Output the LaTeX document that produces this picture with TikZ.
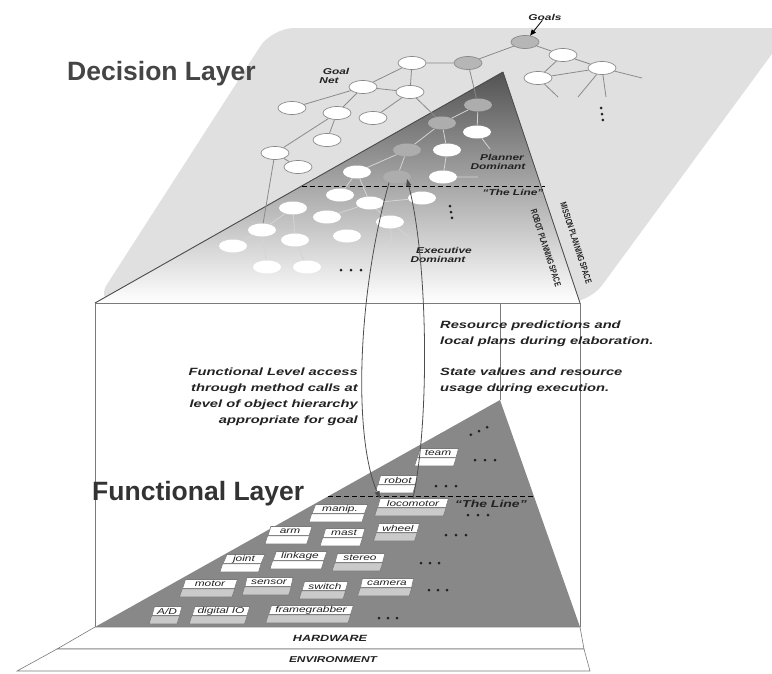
\documentclass[tikz,border=0pt]{standalone}
\usepackage{fontspec}
\setmainfont{Liberation Sans}
\newfontfamily\widefont[FakeStretch=1.4]{Liberation Sans}
\newfontfamily\narrowfont[FakeStretch=0.7]{Liberation Sans}
\usetikzlibrary{shapes.geometric,arrows.meta,calc}

\definecolor{planegray}{HTML}{E0E0E0}
\definecolor{funcgray}{HTML}{888888}
\definecolor{edgegray}{HTML}{8A8A8A}
\definecolor{darkedge}{HTML}{D4D4D4}
\definecolor{nodegray}{HTML}{B6B6B6}
\definecolor{innergraynode}{HTML}{ADADAD}
\definecolor{bandgray}{HTML}{CACACA}
\definecolor{inkgray}{HTML}{222222}
\definecolor{framegray}{HTML}{7A7A7A}
\definecolor{tritop}{HTML}{535353}
\definecolor{trimid}{HTML}{8E8E8E}
\definecolor{flowgray}{HTML}{4D4D4D}
\definecolor{edgedark}{HTML}{4A4A4A}
\definecolor{dectitle}{HTML}{454545}
\definecolor{funtitle}{HTML}{333333}

\pgfdeclarelayer{back}
\pgfdeclarelayer{links}
\pgfsetlayers{back,links,main}

\tikzset{
  goal/.style={ellipse, draw=edgegray, line width=0.7pt, fill=white,
    minimum width=28pt, minimum height=13pt, inner sep=0pt},
  goalgray/.style={goal, fill=nodegray},
  inner/.style={ellipse, fill=white, minimum width=28pt, minimum height=13pt, inner sep=0pt},
  innergray/.style={inner, fill=innergraynode},
  link/.style={edgegray, line width=0.8pt},
  darklink/.style={darkedge, line width=0.8pt},
  tag/.style={font=\widefont\bfseries\itshape\fontsize{8.5}{9}\selectfont,
    text=inkgray, inner sep=0pt},
  sidetag/.style={font=\narrowfont\bfseries\fontsize{9}{10}\selectfont,
    text=inkgray, inner sep=0pt},
  note/.style={font=\widefont\bfseries\itshape\fontsize{10.5}{16}\selectfont,
    text=inkgray, inner sep=0pt},
  title/.style={font=\bfseries\fontsize{26.5}{30}\selectfont, inner sep=0pt},
  fbox/.style={trapezium, trapezium left angle=72, trapezium right angle=108,
    trapezium stretches=true, draw=framegray, line width=0.6pt, fill=white,
    minimum height=9pt, inner sep=0pt,
    font=\widefont\itshape\fontsize{8.5}{8.5}\selectfont, text=inkgray},
  slab/.style={draw=framegray, line width=0.6pt, fill=white},
  slabtag/.style={font=\widefont\bfseries\itshape\fontsize{9}{10}\selectfont,
    text=inkgray, inner sep=0pt},
  flow/.style={flowgray, line width=0.8pt},
  tip/.style={-{Triangle[length=7pt,width=5pt]}},
  theline/.style={black, line width=0.9pt, dash pattern=on 5pt off 3pt},
}

% a labelled box of the functional hierarchy with its shaded lower band
\newcommand\funcbox[6]{%
  \node[fbox, minimum width=#4pt] (#1) at (#2,#3) {#5};
  \draw[framegray, line width=0.6pt, fill=#6] (#1.bottom left corner) --
    (#1.bottom right corner) -- ++(-2.6,8) --
    ($(#1.bottom left corner)+(-2.6,8)$) -- cycle;}

% a row of three dots: x, y, direction, spacing
\newcommand\dotrow[4]{%
  \foreach \k in {-1,0,1}{%
    \fill[inkgray] ({#1+\k*#4*cos(#3)},{#2+\k*#4*sin(#3)}) circle (1.5);}}

\begin{document}
\begin{tikzpicture}[x=1pt,y=-1pt]
\useasboundingbox (0,0) rectangle (772,673);

\begin{pgfonlayer}{back}
  \clip (0,0) rectangle (772,673);
  % decision plane
  \fill[planegray, rounded corners=22pt] (272,28) -- (791,28) -- (589,303) -- (95,303) -- cycle;
  % planning triangle
  \shade[top color=tritop, middle color=trimid, bottom color=white]
    (95,303) -- (503,72) -- (580,303) -- cycle;
  \draw[edgedark, line width=0.9pt] (95,303) -- (503,72);
  \draw[flowgray, line width=0.8pt] (503,72) -- (580,303);
  % frame between the layers
  \draw[framegray, line width=0.8pt] (95,303) -- (580,303);
  \draw[framegray, line width=0.8pt] (95,303) -- (95,627);
  \draw[framegray, line width=0.8pt] (580,303) -- (580,627);
  \draw[framegray, line width=0.8pt] (500,303) -- (500,400);
  % functional triangle
  \fill[funcgray] (500,400) -- (95,627) -- (580,627) -- cycle;
  % hardware and environment slabs
  \draw[slab] (95,627) -- (580,627) -- (584,649) -- (57,649) -- cycle;
  \draw[slab] (57,649) -- (584,649) -- (590,671) -- (17,671) -- cycle;
  % "The Line" in both layers
  \draw[theline] (302,186) -- (545,186);
  \draw[theline] (328,496) -- (533,496);
\end{pgfonlayer}

% goal net on the mission plane
\node[goalgray] (g0) at (525,42) {};
\node[goal] (n1) at (563,55) {};
\node[goal] (n2) at (602,68) {};
\node[goal] (n3) at (538,78) {};
\node[goalgray] (g1) at (468,63) {};
\node[goal] (n4) at (412,63) {};
\node[goal] (n5) at (363,87) {};
\node[goal] (n6) at (410,92) {};
\node[goal] (n7) at (292,108) {};
\node[goal] (n8) at (337,113) {};
\node[goal] (n9) at (373,118) {};
\node[goal] (n10) at (327,140) {};
\node[goal] (n11) at (275,153) {};
\node[goal] (n12) at (298,167) {};
\coordinate (s1) at (642,78);
\coordinate (s2) at (578,97);
\coordinate (s3) at (606,97);
\coordinate (s4) at (558,97);

% goal net inside the robot planning triangle
\node[innergray] (g2) at (478,105) {};
\node[innergray] (g3) at (442,123) {};
\node[innergray] (g4) at (407,150) {};
\node[innergray] (g5) at (397,177) {};
\node[inner] (w1) at (477,132) {};
\node[inner] (w2) at (447,150) {};
\node[inner] (w3) at (443,177) {};
\node[inner] (w4) at (357,172) {};
\node[inner] (w5) at (340,195) {};
\node[inner] (w6) at (370,203) {};
\node[inner] (w7) at (422,198) {};
\node[inner] (w8) at (293,208) {};
\node[inner] (w9) at (327,217) {};
\node[inner] (w10) at (390,222) {};
\node[inner] (w11) at (347,236) {};
\node[inner] (w12) at (262,230) {};
\node[inner] (w13) at (295,240) {};
\node[inner] (w14) at (233,246) {};
\node[inner] (w15) at (267,267) {};
\node[inner] (w16) at (307,267) {};
\coordinate (s5) at (490,149);
\coordinate (s6) at (478,177);
\coordinate (s7) at (410,238);
\coordinate (s8) at (392,246);

\begin{pgfonlayer}{links}
  \draw[link] (g0) -- (n1) (n1) -- (n2) (n1) -- (n3) (n3) -- (n2)
    (g0) -- (g1) (g1) -- (n4) (n4) -- (n5) (n4) -- (n6) (n5) -- (n6)
    (n5) -- (n7) (n5) -- (n8) (n6) -- (n9) (n8) -- (n10) (n8) -- (n11)
    (n11) -- (n12) (n2) -- (s1) (n2) -- (s2) (n2) -- (s3) (n3) -- (s4)
    (g1) -- (g2) (n6) -- (g3) (n11) -- (w12);
  \draw[darklink] (g2) -- (g3) (g3) -- (g4) (g4) -- (g5) (g2) -- (w1)
    (g3) -- (w2) (w2) -- (w3) (w3) -- (s6) (w1) -- (s5)
    (g4) -- (w4) (w4) -- (w5) (w4) -- (w6) (w6) -- (w7) (w6) -- (w10)
    (w6) -- (w9) (w10) -- (s7) (w10) -- (s8)
    (w8) -- (w12) (w8) -- (w13) (w12) -- (w14) (w12) -- (w15) (w13) -- (w16);
\end{pgfonlayer}

% dots marking further nodes
\dotrow{602}{114}{82}{6}
\dotrow{451}{212}{80}{6}
\dotrow{351}{270}{0}{10}

% labels of the decision layer
\node[title, anchor=base west, text=dectitle] (declbl) at (67,80) {Decision Layer};
\node[tag] (goalslbl) at (545,17) {Goals};
\draw[black, line width=0.8pt, -{Triangle[length=6pt,width=5pt]}] (goalslbl) -- (g0);
\node[tag, align=center] (netlbl) at (336,76) {Goal\\Net\hspace*{14pt}};
\node[tag, align=center] (plannerlbl) at (498,162) {\hspace*{8pt}Planner\\Dominant};
\node[tag] (line1lbl) at (513,192) {“The Line”};
\node[tag, align=center] (execlbl) at (438,255) {\hspace*{12pt}Executive\\Dominant};
\node[sidetag, rotate=-72] (missionlbl) at (576,243) {MISSION PLANNING SPACE};
\node[sidetag, rotate=-72] (robotlbl) at (546,248) {ROBOT PLANNING SPACE};

% notes between the layers
\node[note, align=right, anchor=east] (accesslbl) at (358,397)
  {Functional Level access\\through method calls at\\level of object hierarchy\\appropriate for goal};
\node[note, align=left, anchor=west] (predlbl) at (440,334)
  {Resource predictions and\\local plans during elaboration.};
\node[note, align=left, anchor=west] (statelbl) at (440,381)
  {State values and resource\\usage during execution.};

% functional layer
\node[title, anchor=base west, text=funtitle] (funlbl) at (92,500) {Functional Layer};
\funcbox{team}{438}{453}{41}{team}{white}
\funcbox{robot}{398}{480}{40}{robot}{white}
\funcbox{manip}{340}{509}{56}{manip.}{white}
\funcbox{locomotor}{413}{503}{71}{locomotor}{bandgray}
\funcbox{arm}{290}{531}{44}{arm}{white}
\funcbox{mast}{344}{533}{42}{mast}{white}
\funcbox{wheel}{398}{528}{43}{wheel}{bandgray}
\funcbox{joint}{244}{559}{42}{joint}{white}
\funcbox{linkage}{300}{556}{54}{linkage}{white}
\funcbox{stereo}{360}{558}{50}{stereo}{bandgray}
\funcbox{motor}{210}{584}{55}{motor}{bandgray}
\funcbox{sensor}{269}{582}{48}{sensor}{bandgray}
\funcbox{switch}{325}{586}{46}{switch}{bandgray}
\funcbox{camera}{387}{583}{53}{camera}{bandgray}
\funcbox{ad}{167}{611}{30}{A/D}{bandgray}
\funcbox{dio}{221}{611}{58}{digital IO}{bandgray}
\funcbox{fgrab}{311}{610}{85}{framegrabber}{bandgray}
\node[tag, font=\widefont\bfseries\itshape\fontsize{10}{10}\selectfont] (line2lbl) at (491,504) {“The Line”};

\dotrow{479}{431}{-25}{9}
\dotrow{485}{460}{0}{10}
\dotrow{446}{486}{0}{10}
\dotrow{478}{515}{0}{10}
\dotrow{456}{535}{0}{10}
\dotrow{430}{563}{0}{9}
\dotrow{438}{590}{0}{9}
\dotrow{388}{618}{0}{9}

\node[slabtag] (hwlbl) at (330,638) {HARDWARE};
\node[slabtag, font=\widefont\bfseries\itshape\fontsize{8.5}{9}\selectfont] (envlbl) at (333,660) {ENVIRONMENT};

% calls down to the functional layer, reports back up to the planner
\draw[flow, tip] (g5.215) .. controls (356,300) and (354,440) .. (locomotor.top left corner);
\draw[flow, tip] (locomotor.north) .. controls (430,420) and (428,260) .. ($(g5.center)+(10,2)$);
\end{tikzpicture}
\end{document}
